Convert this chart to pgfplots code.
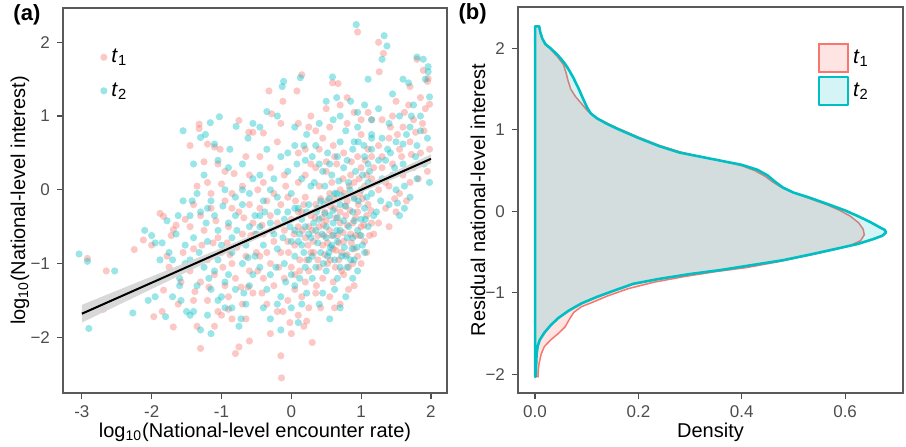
\documentclass[border=0pt]{standalone}
\usepackage{fontspec}
\setmainfont{Liberation Sans}
\usepackage{pgfplots}
\pgfplotsset{compat=1.18}

\definecolor{cpink}{HTML}{F8766D}
\definecolor{cteal}{HTML}{00BFC4}
\definecolor{tickgray}{HTML}{4D4D4D}
\definecolor{framegray}{HTML}{5A5A5A}

\pgfplotsset{
  panel/.style={
    scale only axis, width=192pt, height=192.5pt, clip mode=individual,
    axis line style={framegray, line width=0.6pt},
    tick align=outside, major tick length=3pt, tick pos=left,
    every tick/.style={tickgray, line width=0.6pt},
    tick label style={font=\fontsize{8.5}{10}\selectfont, text=tickgray},
    label style={font=\fontsize{10}{12}\selectfont},
  },
  dots/.style={only marks, mark=*, mark size=1.8pt, color=#1,
    mark options={fill=#1, fill opacity=0.4, draw opacity=0}},
}

\begin{document}
\begin{tikzpicture}
% ---------------- panel (a)
\begin{axis}[panel,
  xmin=-3.27, xmax=2.23, ymin=-2.755, ymax=2.465,
  xtick={-3,-2,-1,0,1,2}, xticklabels={-3,-2,-1,0,1,2},
  ytick={-2,-1,0,1,2}, yticklabels={−2,−1,0,1,2},
  xlabel={log\textsubscript{10}(National-level encounter rate)},
  ylabel={log\textsubscript{10}(National-level interest)},
  xlabel style={at={(axis description cs:0.5,-0.101)}, anchor=center},
  ylabel style={at={(axis description cs:-0.112,0.5)}, anchor=center},
  legend style={at={(rel axis cs:0.096,0.905)}, anchor=north west, draw=none, fill=none,
    font=\fontsize{10.5}{12}\selectfont, row sep=4.5pt, inner sep=0pt},
  legend cell align=left,
  legend image code/.code={\draw[#1] plot coordinates {(0.18cm,0cm)};},
]
% t1
\addplot[dots=cpink] coordinates {
(-2.92,-0.93) (-2.65,-1.10) (-2.69,-1.62) (-2.25,-0.81) (-2.12,-0.68) (-2.0,-0.75)
(-1.97,-1.72) (-1.88,-0.32) (-1.83,-0.36) (-1.83,-1.36) (-1.69,-0.54) (-1.69,-1.86)
(-1.75,-1.05) (-1.72,-0.62) (-1.65,-0.48) (-1.62,-1.55) (-1.58,-1.25) (-1.55,-0.85)
(-1.52,-0.40) (-1.85,-1.65) (-1.78,-0.90)
(-1.45,0.60) (-1.32,0.89) (-1.32,0.83) (-1.2,0.62) (-1.1,0.58) (-0.75,0.94) (-0.61,0.78)
(-0.55,0.78) (-1.25,0.38) (-1.05,0.35) (-0.95,0.25) (-0.6,0.2) (-0.7,0.05) (-1.35,0.05)
(-1.2,0.1) (-1.0,0.08) (-0.85,-0.05) (-1.4,-0.2) (-1.3,-0.35) (-1.15,-0.25) (-0.95,-0.15)
(-0.75,-0.3) (-0.6,-0.2) (-1.45,-0.5) (-1.25,-0.55) (-1.05,-0.65) (-0.9,-0.5) (-0.7,-0.6)
(-0.55,-0.45) (-1.4,-0.8) (-1.2,-0.95) (-1.0,-0.85) (-0.85,-1.0) (-0.65,-0.9) (-0.5,-0.85)
(-1.45,-1.1) (-1.3,-1.25) (-1.1,-1.15) (-0.95,-1.3) (-0.8,-1.2) (-0.6,-1.1) (-1.4,-1.5)
(-1.2,-1.5) (-1.05,-1.65) (-0.9,-1.45) (-0.7,-1.55) (-0.55,-1.4) (-1.35,-1.85) (-1.1,-1.85)
(-0.85,-1.75) (-0.65,-1.75) (-0.6,-2.05) (-0.75,-2.13) (-0.8,-2.22) (-1.3,-2.15) (-1.0,-1.7)
(-0.52,-0.6) (-1.15,-0.05) (-0.88,-0.88) (-0.68,-0.38) (-0.82,0.22) (-1.28,-0.75)
(-1.08,-0.42) (-0.98,-1.05) (-0.62,-1.32) (-1.38,-1.38)
(-0.32,1.34) (-0.28,1.03) (-0.15,0.9) (-0.12,1.2) (0.08,1.34) (0.15,1.56) (-0.4,0.77)
(-0.2,0.65) (0.1,0.9) (0.25,0.85) (-0.45,0.45) (-0.3,0.3) (-0.1,0.2) (0.1,0.5) (0.2,0.55)
(0.28,0.35) (-0.4,0.1) (-0.25,-0.05) (-0.05,-0.1) (0.1,0.1) (0.2,-0.1) (-0.45,-0.25)
(-0.3,-0.35) (-0.15,-0.2) (0.0,-0.4) (0.15,-0.3) (0.25,-0.5) (-0.4,-0.6) (-0.25,-0.7)
(-0.1,-0.55) (0.05,-0.75) (0.2,-0.65) (0.28,-0.85) (-0.45,-0.9) (-0.3,-1.0) (-0.15,-0.85)
(0.0,-1.05) (0.12,-0.95) (0.25,-1.1) (-0.4,-1.2) (-0.25,-1.3) (-0.1,-1.2) (0.05,-1.35)
(0.2,-1.25) (-0.35,-1.55) (-0.2,-1.65) (-0.05,-1.5) (0.1,-1.7) (0.25,-1.6) (-0.3,-1.95)
(-0.15,-2.25) (0.0,-1.95) (0.18,-1.85) (0.3,-2.07) (0.22,-1.78) (-0.14,-2.55) (0.05,-1.15)
(-0.2,-0.45) (0.1,-0.5) (0.18,-0.2) (-0.35,-0.15) (0.22,-0.95) (-0.05,-0.7) (0.28,-0.35)
(-0.42,-1.4)
(0.59,1.45) (0.67,1.44) (0.5,1.1) (0.7,1.15) (0.9,1.05) (1.1,1.05) (0.35,0.8) (0.55,0.85)
(0.8,0.9) (1.0,0.75) (1.15,0.95) (0.4,0.55) (0.6,0.6) (0.75,0.5) (0.95,0.45) (1.1,0.55)
(0.35,0.3) (0.5,0.25) (0.65,0.35) (0.85,0.2) (1.0,0.3) (1.15,0.15) (0.4,0.05) (0.55,-0.05)
(0.7,0.0) (0.9,-0.1) (1.05,0.05) (0.35,-0.2) (0.48,-0.3) (0.62,-0.25) (0.78,-0.35)
(0.95,-0.3) (1.1,-0.2) (0.4,-0.5) (0.55,-0.55) (0.7,-0.45) (0.85,-0.6) (1.0,-0.5)
(1.15,-0.45) (0.32,-0.7) (0.45,-0.75) (0.6,-0.8) (0.75,-0.7) (0.9,-0.8) (1.05,-0.7)
(0.38,-0.95) (0.52,-1.0) (0.68,-0.95) (0.82,-1.05) (0.95,-0.9) (0.45,-1.2) (0.6,-1.25)
(0.75,-1.15) (0.9,-1.3) (0.55,-1.45) (0.7,-1.55) (0.42,-1.6) (0.52,-0.15) (0.66,-0.62)
(0.8,-0.15) (0.88,-0.45) (0.44,-0.38) (0.58,0.1) (0.72,-0.85) (1.08,-0.35) (0.98,-0.05)
(0.36,-1.3) (0.63,-1.05) (0.83,0.05) (0.47,-0.62) (0.92,-0.62) (0.77,-0.22) (1.12,-0.62)
(1.25,2.0) (1.32,1.85) (1.26,1.6) (0.95,2.14) (1.8,1.77) (1.89,1.62) (1.96,1.51)
(1.95,1.47) (1.98,1.16) (1.5,1.2) (1.7,1.4) (1.85,1.25) (1.3,0.95) (1.45,1.0) (1.6,0.85)
(1.75,0.95) (1.9,0.8) (1.25,0.6) (1.4,0.7) (1.55,0.55) (1.7,0.65) (1.85,0.5) (1.3,0.3)
(1.45,0.35) (1.6,0.2) (1.75,0.3) (1.95,0.25) (1.25,0.0) (1.4,0.05) (1.55,-0.05) (1.7,0.1)
(1.35,-0.25) (1.5,-0.3) (1.65,-0.15) (1.25,-0.45) (1.4,-0.5) (1.3,0.45) (1.62,1.05)
(1.98,0.55) (1.82,0.15)
(0.3,-0.55) (0.38,-0.62) (0.46,-0.48) (0.52,-0.72) (0.58,-0.62) (0.64,-0.38) (0.68,-0.72)
(0.74,-0.58) (0.8,-0.48) (0.86,-0.72) (0.92,-0.38) (0.98,-0.62) (1.04,-0.48) (0.34,-0.38)
(0.42,-0.12) (0.5,-0.42) (0.56,-0.22) (0.62,-0.12) (0.7,-0.3) (0.76,-0.05) (0.84,-0.28)
(0.9,0.1) (0.96,-0.2) (1.02,-0.12) (1.08,0.2) (1.14,-0.28) (0.32,-0.85) (0.4,-1.05)
(0.48,-0.88) (0.56,-0.95) (0.64,-0.82) (0.72,-1.1) (0.8,-0.88) (0.88,-1.0) (0.5,0.38)
(0.62,0.45) (0.74,0.15) (0.86,0.38) (0.97,0.15) (1.06,0.4) (1.18,0.3) (0.1,-0.3)
(0.16,-0.55) (0.04,-0.6) (-0.04,-0.85) (0.12,-1.1) (-0.18,-1.05) (-0.28,-0.55) (-0.08,0.05)
(0.06,-0.15) (0.24,-0.75) (0.2,0.2) (-0.35,-0.85) (-0.48,-1.1) (-0.12,-1.65) (0.15,-1.45)
(-0.02,-1.8) (0.35,-1.4) (0.62,-1.6) (0.82,-1.35) (1.0,-1.0) (1.08,-0.85) (1.18,-0.6)
(1.15,0.45) (1.35,0.1) (1.48,-0.12) (1.58,0.45) (1.72,0.48) (1.88,0.9) (1.92,1.1)
(1.68,1.15) (1.78,0.78) (1.42,0.85) (1.52,0.75) (-0.65,0.45) (-0.85,-0.25) (-0.92,-0.72)
(-1.12,-0.72) (-0.78,-0.78) (-0.58,-0.62) (-1.02,0.55) (-0.72,-1.32) (-0.9,-1.62)
(-1.18,-1.32) (-0.48,0.0) (-0.42,-0.48) (1.0,0.95) (0.8,1.25) (0.45,0.7) (0.28,1.0)
};
\addlegendentry{\textit{t}\textsubscript{1}}
% t2
\addplot[dots=cteal] coordinates {
(-3.04,-0.87) (-2.92,-0.97) (-2.53,-1.10) (-2.9,-1.88) (-2.27,-1.67)
(-2.1,-0.55) (-2.0,-0.62) (-1.95,-0.72) (-1.85,-0.72) (-1.8,-1.72) (-1.9,-1.2)
(-1.75,-0.85) (-1.7,-1.45) (-1.65,-0.6) (-1.6,-1.3) (-1.58,-1.5) (-1.55,0.8) (-1.55,-0.15)
(-1.5,-1.65) (-1.52,-0.75) (-2.05,-1.5) (-1.95,-1.45) (-1.88,-0.95) (-1.62,-0.35)
(-1.78,-0.42)
(-1.23,0.75) (-1.30,0.71) (-1.16,0.91) (-1.03,0.99) (-1.1,0.62) (-0.79,0.86) (-0.62,0.7)
(-0.55,0.9) (-1.4,0.35) (-1.25,0.2) (-1.05,0.4) (-0.9,0.3) (-0.7,0.35) (-0.55,0.15)
(-1.35,-0.05) (-1.15,-0.15) (-0.95,0.0) (-0.8,-0.1) (-0.6,-0.05) (-1.45,-0.35) (-1.3,-0.3)
(-1.1,-0.35) (-0.9,-0.45) (-0.7,-0.2) (-0.52,-0.35) (-1.4,-0.65) (-1.2,-0.7) (-1.0,-0.75)
(-0.85,-0.65) (-0.65,-0.75) (-0.5,-0.6) (-1.45,-0.95) (-1.25,-1.05) (-1.05,-0.95)
(-0.9,-1.15) (-0.7,-1.0) (-0.55,-1.15) (-1.35,-1.3) (-1.15,-1.35) (-1.0,-1.45) (-0.8,-1.35)
(-0.6,-1.3) (-1.4,-1.65) (-1.2,-1.7) (-1.05,-1.5) (-0.85,-1.6) (-0.65,-1.55) (-1.3,-1.9)
(-1.15,-1.95) (-0.75,-1.85) (-1.45,-1.7) (-1.22,-0.45) (-0.98,-0.22) (-0.78,-0.55)
(-1.18,-1.2) (-0.95,-1.25) (-0.62,-0.92) (-1.42,-0.15) (-0.88,0.55) (-0.72,-1.75)
(-1.32,-0.85)
(-0.13,1.4) (-0.11,1.47) (0.13,1.52) (-0.35,1.06) (-0.45,0.85) (-0.2,1.0) (0.05,0.85)
(0.22,0.75) (-0.35,0.55) (-0.15,0.45) (0.05,0.6) (0.2,0.4) (-0.45,0.2) (-0.25,0.15)
(-0.05,0.25) (0.15,0.15) (0.28,0.05) (-0.4,-0.15) (-0.2,-0.1) (0.0,-0.05) (0.1,-0.25)
(0.25,-0.2) (-0.45,-0.5) (-0.3,-0.45) (-0.1,-0.4) (0.05,-0.55) (0.2,-0.5) (-0.4,-0.75)
(-0.2,-0.8) (0.0,-0.7) (0.15,-0.75) (0.28,-0.65) (-0.45,-1.05) (-0.3,-1.15) (-0.1,-1.0)
(0.05,-0.9) (0.2,-1.05) (-0.35,-1.35) (-0.15,-1.45) (0.05,-1.3) (0.22,-1.4) (-0.4,-1.6)
(-0.2,-1.55) (0.0,-1.6) (0.15,-1.55) (-0.15,-1.9) (0.1,-1.8) (-0.3,-1.75) (0.18,-0.85)
(-0.05,-0.3) (0.12,-0.6) (-0.25,-0.6) (0.25,-0.95) (-0.08,-1.25) (0.08,0.35) (-0.38,-0.3)
(0.59,1.53) (0.5,1.2) (0.65,1.25) (0.85,1.2) (1.05,1.15) (0.4,0.9) (0.6,0.95) (0.78,0.8)
(0.95,0.85) (1.15,0.75) (0.35,0.6) (0.52,0.5) (0.7,0.65) (0.88,0.55) (1.05,0.45)
(1.15,0.7) (0.4,0.35) (0.58,0.2) (0.75,0.3) (0.92,0.25) (1.1,0.35) (0.33,0.1) (0.48,0.05)
(0.65,-0.05) (0.82,0.1) (1.0,0.0) (1.15,-0.05) (0.38,-0.25) (0.55,-0.35) (0.7,-0.2)
(0.88,-0.3) (1.05,-0.25) (1.18,-0.35) (0.35,-0.55) (0.5,-0.65) (0.65,-0.55) (0.8,-0.65)
(0.95,-0.55) (1.1,-0.5) (0.42,-0.85) (0.58,-0.75) (0.72,-0.9) (0.87,-0.8) (1.02,-0.75)
(0.35,-1.05) (0.5,-1.1) (0.66,-1.2) (0.8,-1.05) (0.95,-1.1) (0.45,-1.4) (0.62,-1.35)
(0.78,-1.45) (0.55,-1.75) (0.4,-0.4) (0.6,-0.45) (0.75,-0.42) (0.9,-0.12) (1.0,-0.4)
(0.47,-0.2) (0.85,-0.95) (0.68,0.12) (1.1,0.1) (0.52,-0.9) (0.96,0.65) (0.62,-0.05)
(1.33,2.09) (1.37,1.95) (1.30,1.77) (0.93,2.24) (1.8,1.80) (1.89,1.77) (1.96,1.67)
(1.96,1.60) (1.98,1.26) (1.45,1.3) (1.6,1.5) (1.75,1.15) (1.25,1.1) (1.4,0.9) (1.55,1.0)
(1.7,0.85) (1.85,1.0) (1.3,0.7) (1.5,0.65) (1.65,0.75) (1.8,0.6) (1.95,0.7) (1.25,0.4)
(1.42,0.5) (1.6,0.35) (1.78,0.45) (1.9,0.35) (1.3,0.15) (1.45,0.2) (1.62,0.05) (1.8,0.15)
(1.98,0.1) (1.28,-0.15) (1.4,-0.2) (1.55,-0.35) (1.7,-0.1) (1.22,-0.3) (1.5,0.0)
(0.32,-0.45) (0.38,-0.72) (0.44,-0.6) (0.5,-0.5) (0.56,-0.78) (0.6,-0.62) (0.66,-0.7)
(0.7,-0.55) (0.76,-0.78) (0.82,-0.5) (0.88,-0.65) (0.94,-0.78) (1.0,-0.62) (1.06,-0.4)
(0.36,-0.3) (0.42,-0.15) (0.48,-0.32) (0.54,-0.12) (0.6,-0.28) (0.66,-0.38) (0.72,-0.08)
(0.78,-0.22) (0.84,0.0) (0.9,-0.42) (0.96,-0.15) (1.02,0.2) (1.08,-0.1) (1.12,0.25)
(0.3,-0.9) (0.46,-1.0) (0.54,-0.85) (0.62,-0.95) (0.7,-1.05) (0.78,-0.9) (0.9,-0.95)
(0.45,0.25) (0.55,0.35) (0.66,0.45) (0.8,0.4) (0.9,0.65) (1.04,0.6) (0.15,-0.4)
(0.05,-0.25) (-0.02,-0.5) (0.1,-0.7) (0.22,-0.3) (0.25,-0.6) (-0.12,-0.65) (-0.2,-0.3)
(0.0,-1.15) (-0.22,-1.05) (0.12,-1.2) (0.3,-1.2) (-0.05,0.5) (0.18,0.6) (-0.3,0.0)
(0.4,-1.55) (0.7,-1.6) (0.88,-1.2) (1.05,-0.85) (1.15,0.55) (1.15,0.95) (1.35,0.4)
(1.48,0.3) (1.6,0.62) (1.72,1.0) (1.92,1.5) (1.68,1.45) (1.85,0.8) (1.38,0.55)
(1.52,-0.18) (1.62,-0.25) (-0.7,0.0) (-0.6,-0.5) (-0.85,-0.85) (-1.05,-0.55) (-0.8,-0.35)
(-1.2,-0.25) (-0.95,-1.6) (-1.1,-1.1) (-0.68,-1.4) (-0.52,-0.9) (-0.45,-0.35) (-1.52,-1.0)
(-1.7,-0.95) (-1.6,-1.2) (0.7,1.0) (0.95,1.05) (1.1,1.5) (0.3,0.45)
};
\addlegendentry{\textit{t}\textsubscript{2}}
% confidence band and fitted line
\addplot[fill=black!17, draw=none, opacity=0.9, forget plot] coordinates {
(-3,-1.56) (-2,-1.175) (-1,-0.79) (0,-0.39) (1,0.035) (2,0.48)
(2,0.36) (1,-0.035) (0,-0.45) (-1,-0.89) (-2,-1.345) (-3,-1.80)} -- cycle;
\addplot[black, line width=1pt, forget plot] coordinates {(-3,-1.68) (2,0.42)};
\node[font=\bfseries\fontsize{11}{13}\selectfont] at (axis description cs:-0.094,0.982) {(a)};
\end{axis}

% ---------------- panel (b)
\begin{axis}[panel, at={(227.5pt,0pt)}, height=193pt, width=192.5pt,
  xmin=-0.033, xmax=0.712, ymin=-2.23, ymax=2.507,
  xtick={0,0.2,0.4,0.6}, xticklabels={0.0,0.2,0.4,0.6},
  ytick={-2,-1,0,1,2}, yticklabels={−2,−1,0,1,2},
  xlabel={Density}, ylabel={Residual national-level interest},
  xlabel style={at={(axis description cs:0.5,-0.101)}, anchor=center},
  ylabel style={at={(axis description cs:-0.104,0.5)}, anchor=center},
  legend style={at={(rel axis cs:0.777,0.907)}, anchor=north west, draw=none, fill=none,
    font=\fontsize{10.5}{12}\selectfont, row sep=1.5pt, inner sep=0pt},
  legend cell align=left,
  legend image code/.code={\draw[#1] (0pt,-7pt) rectangle (14.5pt,7pt);},
]
\addplot[draw=cpink, line width=0.75pt, fill=cpink, fill opacity=0.2] coordinates {
(0,2.27) (0.008,2.27) (0.01,2.2) (0.014,2.12) (0.02,2.05) (0.03,1.99) (0.043,1.90)
(0.055,1.80) (0.06,1.70) (0.064,1.6) (0.069,1.5) (0.078,1.41) (0.09,1.32) (0.102,1.23)
(0.115,1.16) (0.14,1.08) (0.16,1.02) (0.2,0.91) (0.24,0.81) (0.28,0.73) (0.32,0.67)
(0.36,0.62) (0.40,0.56) (0.425,0.50) (0.445,0.43) (0.46,0.36) (0.475,0.30) (0.50,0.23)
(0.53,0.16) (0.565,0.08) (0.59,0.01) (0.61,-0.06) (0.626,-0.14) (0.635,-0.22)
(0.637,-0.29) (0.63,-0.36) (0.61,-0.42) (0.58,-0.47) (0.53,-0.54) (0.47,-0.62)
(0.41,-0.69) (0.35,-0.74) (0.29,-0.80) (0.23,-0.87) (0.18,-0.95) (0.14,-1.04)
(0.11,-1.12) (0.09,-1.17) (0.075,-1.24) (0.066,-1.33) (0.058,-1.42) (0.045,-1.50)
(0.03,-1.58) (0.018,-1.66) (0.012,-1.75) (0.008,-1.86) (0.006,-1.96) (0.006,-2.03)
(0,-2.03)} -- cycle;
\addlegendentry{\textit{t}\textsubscript{1}}
\addplot[draw=cteal, line width=1.3pt, fill=cteal, fill opacity=0.17, line join=round] coordinates {
(0,2.27) (0.008,2.27) (0.01,2.2) (0.014,2.12) (0.02,2.05) (0.03,2.0) (0.045,1.91)
(0.058,1.81) (0.066,1.73) (0.074,1.64) (0.084,1.51) (0.093,1.38) (0.101,1.27)
(0.108,1.2) (0.12,1.14) (0.14,1.07) (0.16,1.01) (0.2,0.90) (0.24,0.80) (0.28,0.72)
(0.32,0.67) (0.36,0.62) (0.40,0.57) (0.43,0.51) (0.45,0.44) (0.465,0.36) (0.48,0.29)
(0.50,0.23) (0.53,0.17) (0.57,0.08) (0.60,0.01) (0.625,-0.06) (0.648,-0.13)
(0.665,-0.19) (0.677,-0.23) (0.679,-0.26) (0.672,-0.30) (0.655,-0.34) (0.625,-0.40)
(0.59,-0.45) (0.54,-0.52) (0.48,-0.60) (0.42,-0.66) (0.36,-0.72) (0.30,-0.77)
(0.24,-0.83) (0.19,-0.89) (0.15,-0.98) (0.12,-1.05) (0.09,-1.13) (0.065,-1.22)
(0.045,-1.31) (0.03,-1.40) (0.018,-1.49) (0.009,-1.58) (0.005,-1.66) (0.003,-1.75)
(0.002,-1.9) (0.001,-2.03) (0,-2.03)} -- cycle;
\addlegendentry{\textit{t}\textsubscript{2}}
\node[font=\bfseries\fontsize{11}{13}\selectfont] at (axis description cs:-0.118,0.982) {(b)};
\end{axis}
\pgfresetboundingbox
\useasboundingbox (-31.5pt,-26.5pt) rectangle (421.5pt,196.5pt);
\end{tikzpicture}
\end{document}
